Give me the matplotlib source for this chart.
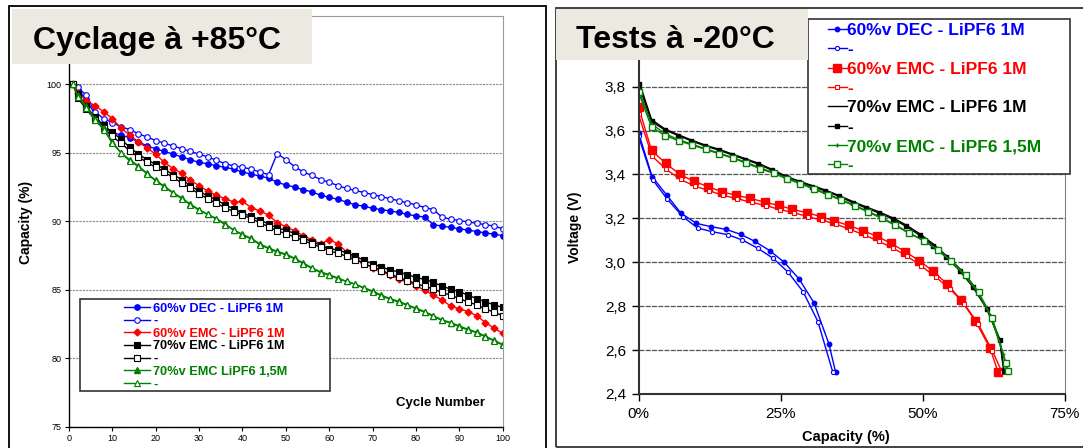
import numpy as np
import matplotlib.pyplot as plt
from matplotlib.patches import Rectangle

plt.rcParams['font.family'] = ['Liberation Sans', 'DejaVu Sans']

W, H = 1083, 448

# ===== left panel : capacity retention while cycling at +85 C =====
cycles = [1] + list(range(2, 101, 2))
dec60 = [100.0, 99.6, 98.9, 97.8, 96.8, 96.5, 96.3, 96.1, 95.8, 95.5, 95.3,
         95.1, 94.9, 94.7, 94.5, 94.3, 94.2, 94.05, 93.95, 93.8, 93.6,
         93.45, 93.3, 93.15, 92.85, 92.65, 92.5, 92.3, 92.15, 91.9, 91.75,
         91.6, 91.4, 91.2, 91.1, 90.95, 90.85, 90.75, 90.65, 90.5, 90.4,
         90.3, 89.75, 89.65, 89.55, 89.45, 89.35, 89.25, 89.15, 89.05, 88.95]
dec60_b = [100.0, 99.8, 99.2, 98.0, 97.5, 97.2, 96.9, 96.7, 96.4, 96.15, 95.9,
           95.7, 95.5, 95.3, 95.1, 94.9, 94.7, 94.45, 94.2, 94.05, 93.95,
           93.8, 93.6, 93.4, 94.95, 94.5, 94.0, 93.6, 93.35, 93.05, 92.85,
           92.6, 92.4, 92.25, 92.1, 91.95, 91.8, 91.65, 91.5, 91.35, 91.2,
           91.0, 90.85, 90.3, 90.15, 90.05, 89.95, 89.85, 89.75, 89.65, 89.45]
emc60 = [100.0, 99.4, 98.8, 98.45, 98.0, 97.5, 96.8, 96.3, 95.8, 95.35, 94.9,
         94.3, 93.85, 93.5, 93.0, 92.6, 92.2, 91.9, 91.65, 91.4, 91.45,
         91.0, 90.75, 90.45, 89.9, 89.6, 89.3, 88.95, 88.65, 88.35, 88.65,
         88.35, 87.75, 87.25, 86.95, 86.6, 86.35, 86.05, 85.8, 85.6, 85.3,
         84.95, 84.6, 84.25, 83.8, 83.6, 83.4, 83.1, 82.6, 82.2, 81.8]
emc70 = [100.0, 99.3, 98.4, 97.6, 97.0, 96.5, 96.0, 95.4, 94.9, 94.5, 94.15,
         93.8, 93.4, 93.05, 92.6, 92.2, 91.85, 91.55, 91.2, 90.9, 90.6,
         90.35, 90.1, 89.8, 89.5, 89.35, 89.1, 88.8, 88.5, 88.25, 88.0,
         87.9, 87.7, 87.45, 87.15, 86.9, 86.65, 86.45, 86.3, 86.1, 85.9,
         85.75, 85.55, 85.25, 85.05, 84.85, 84.6, 84.35, 84.1, 83.9, 83.7]
emc70_b = [100.0, 99.0, 98.2, 97.4, 96.8, 96.2, 95.7, 95.15, 94.7, 94.3, 93.95,
           93.6, 93.2, 92.8, 92.4, 92.0, 91.65, 91.3, 91.0, 90.7, 90.45,
           90.2, 89.9, 89.6, 89.3, 89.1, 88.85, 88.6, 88.35, 88.1, 87.85,
           87.65, 87.45, 87.2, 86.9, 86.65, 86.4, 86.15, 85.9, 85.65, 85.45,
           85.25, 85.05, 84.8, 84.6, 84.35, 84.1, 83.9, 83.6, 83.35, 83.1]
emc70_15 = [100.0, 99.2, 98.4, 97.5, 96.8, 95.8, 95.0, 94.5, 94.05, 93.5, 93.0,
            92.55, 92.1, 91.7, 91.25, 90.85, 90.5, 90.2, 89.8, 89.35, 89.05,
            88.75, 88.35, 88.05, 87.8, 87.6, 87.3, 86.95, 86.6, 86.3, 86.1,
            85.85, 85.6, 85.4, 85.15, 84.9, 84.6, 84.35, 84.15, 83.9, 83.65,
            83.4, 83.1, 82.8, 82.6, 82.35, 82.1, 81.9, 81.6, 81.3, 81.0]
emc70_15_b = [100.0, 99.1, 98.3, 97.4, 96.7, 95.7, 95.0, 94.4, 94.0, 93.45, 92.95,
              92.5, 92.05, 91.65, 91.2, 90.8, 90.5, 90.15, 89.75, 89.35, 89.0,
              88.7, 88.3, 88.0, 87.75, 87.55, 87.25, 86.9, 86.55, 86.25, 86.05,
              85.8, 85.6, 85.4, 85.1, 84.85, 84.55, 84.3, 84.1, 83.85, 83.6,
              83.35, 83.05, 82.75, 82.55, 82.3, 82.05, 81.85, 81.55, 81.25, 80.95]

left_labels = ["60%v DEC - LiPF6 1M", "-", "60%v EMC - LiPF6 1M",
               "70%v EMC - LiPF6 1M", "-", "70%v EMC LiPF6 1,5M", "-"]
left_yticks = [75, 80, 85, 90, 95, 100]
left_xticks = list(range(0, 101, 10))

# ===== right panel : discharge at -20 C =====
dec_cap = [0, 2.4, 5.0, 7.5, 10.2, 12.8, 15.4, 18.0, 20.5, 23.1, 25.7, 28.3,
           30.9, 33.5, 34.7]
dec_v = [3.59, 3.39, 3.305, 3.223, 3.177, 3.162, 3.15, 3.127, 3.095, 3.053,
         2.999, 2.923, 2.815, 2.63, 2.50]
dec_b_cap = [0, 2.5, 5.1, 7.8, 10.4, 13.0, 15.7, 18.3, 21.0, 23.7, 26.3, 29.0,
             31.6, 34.2]
dec_b_v = [3.574, 3.376, 3.286, 3.208, 3.156, 3.139, 3.126, 3.101, 3.064, 3.018,
           2.956, 2.865, 2.729, 2.50]
emc_cap = [0, 2.3, 4.8, 7.3, 9.8, 12.3, 14.7, 17.2, 19.7, 22.2, 24.7, 27.1,
           29.6, 32.1, 34.5, 37.0, 39.5, 42.0, 44.5, 46.9, 49.4, 51.9, 54.4,
           56.8, 59.3, 61.9, 63.3]
emc_v = [3.708, 3.51, 3.45, 3.40, 3.368, 3.344, 3.321, 3.305, 3.291, 3.274,
         3.259, 3.241, 3.226, 3.208, 3.188, 3.168, 3.144, 3.118, 3.086, 3.049,
         3.008, 2.958, 2.90, 2.827, 2.733, 2.608, 2.50]
emc_b_cap = [0, 2.4, 4.9, 7.4, 9.9, 12.4, 14.9, 17.4, 19.9, 22.4, 24.9, 27.4,
             29.9, 32.3, 34.8, 37.3, 39.9, 42.3, 44.8, 47.3, 49.8, 52.3, 54.8,
             57.3, 59.8, 62.3, 64.0]
emc_b_v = [3.673, 3.483, 3.423, 3.377, 3.347, 3.326, 3.305, 3.289, 3.273, 3.258,
           3.240, 3.225, 3.207, 3.192, 3.173, 3.149, 3.123, 3.095, 3.065, 3.027,
           2.983, 2.933, 2.880, 2.812, 2.72, 2.596, 2.50]
e70_cap = [0, 2.3, 4.6, 7.0, 9.3, 11.7, 14.1, 16.4, 18.8, 21.1, 23.5, 25.9,
           28.2, 30.6, 32.9, 35.3, 37.7, 40.0, 42.4, 44.8, 47.1, 49.5, 51.9,
           54.2, 56.6, 58.9, 61.3, 63.6, 64.4]
e70_v = [3.83, 3.65, 3.608, 3.581, 3.557, 3.534, 3.515, 3.494, 3.472, 3.451,
         3.423, 3.393, 3.37, 3.349, 3.329, 3.304, 3.277, 3.253, 3.229, 3.202,
         3.17, 3.13, 3.083, 3.03, 2.97, 2.895, 2.795, 2.65, 2.50]
e70_b_cap = [0, 2.3, 4.6, 7.0, 9.3, 11.7, 14.1, 16.4, 18.8, 21.1, 23.5, 25.9,
             28.2, 30.6, 32.9, 35.3, 37.7, 40.0, 42.4, 44.8, 47.1, 49.5, 51.9,
             54.2, 56.6, 58.9, 61.3, 63.6, 64.3]
e70_b_v = [3.81, 3.642, 3.603, 3.577, 3.553, 3.53, 3.511, 3.49, 3.468, 3.447,
           3.419, 3.389, 3.366, 3.345, 3.325, 3.30, 3.272, 3.248, 3.224, 3.197,
           3.164, 3.123, 3.076, 3.022, 2.961, 2.886, 2.788, 2.644, 2.503]
e7015_cap = [0, 0.1, 2.3, 4.7, 7.1, 9.5, 11.8, 14.2, 16.6, 19.0, 21.4, 23.8,
             26.1, 28.5, 30.9, 33.3, 35.7, 38.1, 40.4, 42.8, 45.2, 47.6, 50.0,
             52.4, 54.8, 57.2, 59.6, 62.0, 64.2, 64.9]
e7015_v = [3.93, 3.78, 3.63, 3.585, 3.558, 3.537, 3.517, 3.497, 3.477, 3.455,
           3.43, 3.408, 3.384, 3.361, 3.336, 3.311, 3.285, 3.259, 3.232, 3.203,
           3.171, 3.135, 3.10, 3.06, 3.01, 2.947, 2.868, 2.755, 2.58, 2.50]
e7015_b_cap = [0, 2.3, 4.7, 7.1, 9.5, 11.8, 14.2, 16.6, 19.0, 21.4, 23.8, 26.1,
               28.5, 30.9, 33.3, 35.7, 38.1, 40.4, 42.8, 45.2, 47.6, 50.3, 52.7,
               55.1, 57.6, 59.9, 62.3, 64.7, 65.1]
e7015_b_v = [3.774, 3.615, 3.577, 3.553, 3.533, 3.514, 3.494, 3.474, 3.451, 3.426,
             3.405, 3.38, 3.358, 3.332, 3.308, 3.282, 3.256, 3.229, 3.200, 3.168,
             3.132, 3.099, 3.057, 3.007, 2.943, 2.863, 2.745, 2.542, 2.503]

right_labels = ["60%v DEC - LiPF6 1M", "-", "60%v EMC - LiPF6 1M", "-",
                "70%v EMC - LiPF6 1M", "-", "70%v EMC - LiPF6 1,5M", "-"]
right_yticks = [2.4, 2.6, 2.8, 3.0, 3.2, 3.4, 3.6, 3.8]
right_yticklabels = ["2,4", "2,6", "2,8", "3,0", "3,2", "3,4", "3,6", "3,8"]
right_xticks = [0, 25, 50, 75]
right_xticklabels = ["0%", "25%", "50%", "75%"]

BLUE, RED, BLACK, GREEN = '#0000FF', '#FF0000', '#000000', '#008000'
BEIGE = '#ECE9E0'


def fx(px):
    return px / W


def fy(py):
    return 1 - py / H


def box(x0, y0, x1, y1, **kw):
    # rectangle given in pixel coordinates (top-left origin)
    return Rectangle((fx(x0), fy(y1)), (x1 - x0) / W, (y1 - y0) / H,
                     transform=fig.transFigure, **kw)


fig = plt.figure(figsize=(W / 100, H / 100), dpi=100)

# outer frames of the two panels
fig.add_artist(box(8.6, 6, 546, 470, fill=False, ec='black', lw=1.3, zorder=1))
fig.add_artist(box(555.6, 8, 1100, 446.7, fill=False, ec='#333333', lw=1.3, zorder=1))

# ---------------- left chart ----------------
ax1 = fig.add_axes([fx(69), fy(426.5), (502.7 - 69) / W, (426.5 - 16) / H])
ax1.set_xlim(0, 100)
ax1.set_ylim(75, 105)
ax1.set_xticks(left_xticks)
ax1.set_yticks(left_yticks)
ax1.grid(axis='y', color='#8a8a8a', lw=0.8, ls=(0, (2, 1)))
ax1.set_axisbelow(True)
for s in ['top', 'right']:
    ax1.spines[s].set_color('#9a9a9a')
for s in ['left', 'bottom']:
    ax1.spines[s].set_color('black')
    ax1.spines[s].set_linewidth(1.0)
ax1.tick_params(labelsize=6.5, length=3, width=0.8, pad=2.5)

kw = dict(lw=1.0, ms=4, mew=0.8)
l1, = ax1.plot(cycles, dec60, color=BLUE, marker='o', **kw)
l2, = ax1.plot(cycles, dec60_b, color=BLUE, marker='o', mfc='white', **kw)
l3, = ax1.plot(cycles, emc60, color=RED, marker='D', lw=1.0, ms=3.5)
l4, = ax1.plot(cycles, emc70, color=BLACK, marker='s', **kw)
l5, = ax1.plot(cycles, emc70_b, color=BLACK, marker='s', mfc='white', **kw)
l6, = ax1.plot(cycles, emc70_15, color=GREEN, marker='^', lw=1.0, ms=4.5)
l7, = ax1.plot(cycles, emc70_15_b, color=GREEN, marker='^', mfc='white', lw=1.0, ms=4.5, mew=0.8)

ax1.set_ylabel('Capacity (%)', fontsize=10, fontweight='bold')
ax1.yaxis.set_label_coords(-0.083, 0.496)
fig.text(fx(485.5), fy(403), 'Cycle Number', ha='right', va='center',
         fontsize=9.5, fontweight='bold')

fig.add_artist(box(80, 299.3, 329.5, 391, fc='white', ec='#333333', lw=1.2, zorder=2))
leg1 = fig.legend([l1, l2, l3, l4, l5, l6, l7], left_labels, loc='upper left',
                  bbox_to_anchor=(fx(124.3), fy(302.5)), frameon=False,
                  prop={'weight': 'bold', 'size': 9.2}, borderpad=0,
                  handlelength=2.0, handletextpad=0.25, labelspacing=0.05,
                  borderaxespad=0)
leg1.set_zorder(6)
for t, c in zip(leg1.get_texts(), [BLUE, BLUE, RED, BLACK, BLACK, GREEN, GREEN]):
    t.set_color(c)

# ---------------- right chart ----------------
ax2 = fig.add_axes([fx(638.5), fy(394), (1064.5 - 638.5) / W, (394 - 42.7) / H])
ax2.set_xlim(0, 75)
ax2.set_ylim(2.4, 4.0)
ax2.set_xticks(right_xticks)
ax2.set_xticklabels(right_xticklabels)
ax2.set_yticks(right_yticks)
ax2.set_yticklabels(right_yticklabels)
ax2.grid(axis='y', color='#555555', lw=0.9, ls=(0, (4, 1)))
ax2.set_axisbelow(True)
for s in ['top', 'right']:
    ax2.spines[s].set_color('#808080')
for s in ['left', 'bottom']:
    ax2.spines[s].set_color('#333333')
    ax2.spines[s].set_linewidth(1.5)
ax2.tick_params(labelsize=11, length=5, width=1.0, pad=4)

r1, = ax2.plot(dec_cap, dec_v, color=BLUE, marker='o', lw=1.0, ms=3.2)
r2, = ax2.plot(dec_b_cap, dec_b_v, color=BLUE, marker='o', mfc='white', lw=1.0, ms=3.0, mew=0.8)
r3, = ax2.plot(emc_cap, emc_v, color=RED, marker='s', lw=1.0, ms=5.5)
r4, = ax2.plot(emc_b_cap, emc_b_v, color=RED, marker='s', mfc='white', lw=1.0, ms=3.0, mew=0.8)
r5, = ax2.plot(e70_cap, e70_v, color=BLACK, lw=1.0)
r6, = ax2.plot(e70_b_cap, e70_b_v, color=BLACK, marker='s', lw=1.0, ms=2.2)
r7, = ax2.plot(e7015_cap, e7015_v, color=GREEN, marker='+', lw=1.0, ms=3)
r8, = ax2.plot(e7015_b_cap, e7015_b_v, color=GREEN, marker='s', mfc='white', lw=1.0, ms=4.5, mew=1.0)

ax2.set_ylabel('Voltage (V)', fontsize=10, fontweight='bold')
ax2.yaxis.set_label_coords(-0.133, 0.475)
ax2.set_xlabel('Capacity (%)', fontsize=10.5, fontweight='bold')
ax2.xaxis.set_label_coords(0.487, -0.1025)

fig.add_artist(box(808, 19.3, 1070, 174, fc='white', ec='#333333', lw=1.2, zorder=2))
leg2 = fig.legend([r1, r2, r3, r4, r5, r6, r7, r8], right_labels, loc='upper left',
                  bbox_to_anchor=(fx(828.3), fy(23)), frameon=False,
                  prop={'weight': 'bold', 'size': 12.5}, borderpad=0,
                  handlelength=1.05, handletextpad=0.05, labelspacing=0.24,
                  borderaxespad=0)
leg2.set_zorder(6)
for t, c in zip(leg2.get_texts(), [BLUE, BLUE, RED, RED, BLACK, BLACK, GREEN, GREEN]):
    t.set_color(c)

# slide titles on beige boxes
fig.add_artist(box(12, 9.3, 312.3, 64.3, fc=BEIGE, ec='none', zorder=3))
fig.text(fx(33), fy(48.5), 'Cyclage à +85°C', fontsize=23, fontweight='bold',
         va='baseline', zorder=4)
fig.add_artist(box(555.6, 9.3, 807.7, 60, fc=BEIGE, ec='none', zorder=3))
fig.text(fx(576), fy(48.3), 'Tests à -20°C', fontsize=23, fontweight='bold',
         va='baseline', zorder=4)

fig.savefig('out.png', dpi=100)
